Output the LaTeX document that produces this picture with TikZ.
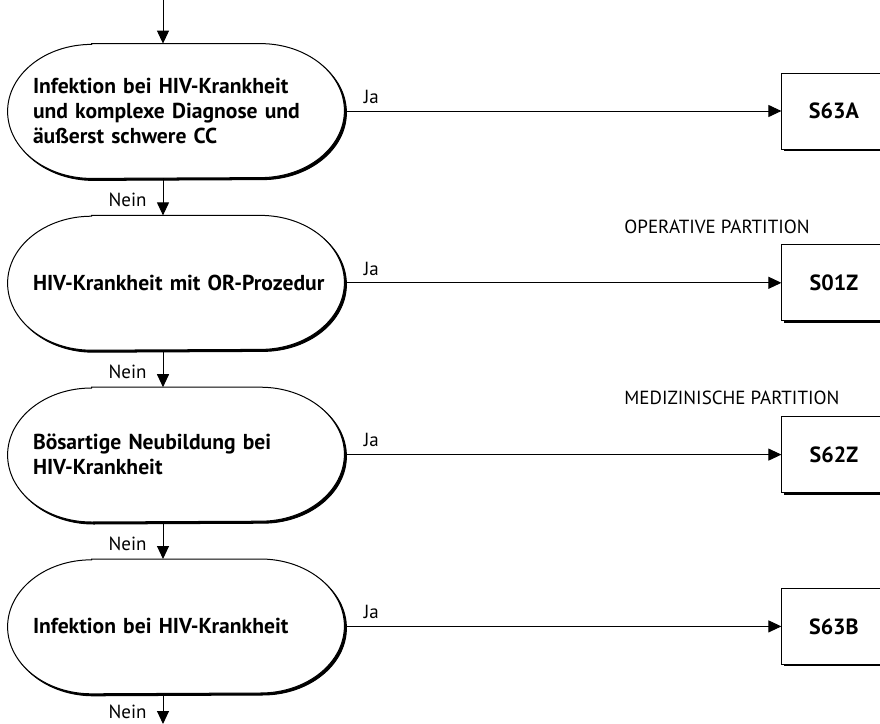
\documentclass[tikz,border=0pt]{standalone}
\usepackage{fontspec}
\setmainfont{PT Sans}
\usetikzlibrary{positioning}
\usetikzlibrary{arrows.meta}
\usetikzlibrary{backgrounds}
\usetikzlibrary{shadows}

\tikzset{
  frage/.style={rectangle, inner xsep=12.5pt, inner ysep=0pt, minimum height=67pt, text width=143pt, align=left, font=\fontsize{10.8}{12.5}\selectfont\bfseries},
  drg/.style={rectangle, draw, fill=white, line width=0.5pt, minimum width=52pt, minimum height=38pt, font=\fontsize{11}{12.5}\selectfont\bfseries, drop shadow={shadow xshift=1pt, shadow yshift=-1pt, fill=black, opacity=1}},
  pfeil/.style={line width=0.5pt, -{Triangle[length=6.5pt,width=6pt]}},
  klein/.style={font=\fontsize{9.5}{11}\selectfont, inner sep=0pt}
}

% Kapsel mit Schatten hinter einem Knoten
\newcommand{\kapsel}[1]{%
  \begin{scope}[on background layer]
    \foreach \d/\fl in {1pt/black, 0pt/white}{
      \filldraw[fill=\fl, line width=0.5pt]
        ([xshift=42pt+\d, yshift=-\d]#1.north west) -- ([xshift=-42pt+\d, yshift=-\d]#1.north east)
        arc[start angle=90, end angle=-90, x radius=42pt, y radius=33.5pt]
        -- ([xshift=42pt+\d, yshift=-\d]#1.south west)
        arc[start angle=270, end angle=90, x radius=42pt, y radius=33.5pt] -- cycle;
    }
  \end{scope}
}

\begin{document}
\begin{tikzpicture}
  \useasboundingbox (0,0) rectangle (440pt,-362pt);

  \coordinate (start) at (81.5pt,0pt);
  \node[frage] (c1) at (88pt,-55.5pt) {Infektion bei HIV-Krankheit\\und komplexe Diagnose und\\äußerst schwere CC};
  \node[frage, below=18.5pt of c1] (c2) {\mbox{HIV-Krankheit mit OR-Prozedur}};
  \node[frage, below=18.5pt of c2] (c3) {Bösartige Neubildung bei\\HIV-Krankheit};
  \node[frage, below=18.5pt of c3] (c4) {Infektion bei HIV-Krankheit};
  \coordinate (ende) at (81.5pt,-362pt);

  \kapsel{c1}
  \kapsel{c2}
  \kapsel{c3}
  \kapsel{c4}

  \node[drg, right=218.5pt of c1] (s63a) {S63A};
  \node[drg, right=218.5pt of c2] (s01z) {S01Z};
  \node[drg, right=218.5pt of c3] (s62z) {S62Z};
  \node[drg, right=218.5pt of c4] (s63b) {S63B};

  \node[klein, anchor=west] (op) at (312pt,-113.5pt) {OPERATIVE PARTITION};
  \node[klein, anchor=west] (med) at (312pt,-199pt) {MEDIZINISCHE PARTITION};

  \draw[pfeil] (start) -- ([xshift=-6.5pt]c1.north);
  \draw[pfeil] ([xshift=-6.5pt]c1.south) -- ([xshift=-6.5pt]c2.north) node[klein, midway, left=8pt, yshift=-1.5pt] {Nein};
  \draw[pfeil] ([xshift=-6.5pt]c2.south) -- ([xshift=-6.5pt]c3.north) node[klein, midway, left=8pt, yshift=-1.5pt] {Nein};
  \draw[pfeil] ([xshift=-6.5pt]c3.south) -- ([xshift=-6.5pt]c4.north) node[klein, midway, left=8pt, yshift=-1.5pt] {Nein};
  \draw[pfeil] ([xshift=-6.5pt]c4.south) -- (ende) node[klein, midway, left=8pt, yshift=-1.5pt] {Nein};

  \draw[pfeil] (c1) -- (s63a) node[klein, pos=0, above right, xshift=9.5pt, yshift=3.5pt] {Ja};
  \draw[pfeil] (c2) -- (s01z) node[klein, pos=0, above right, xshift=9.5pt, yshift=3.5pt] {Ja};
  \draw[pfeil] (c3) -- (s62z) node[klein, pos=0, above right, xshift=9.5pt, yshift=3.5pt] {Ja};
  \draw[pfeil] (c4) -- (s63b) node[klein, pos=0, above right, xshift=9.5pt, yshift=3.5pt] {Ja};
\end{tikzpicture}
\end{document}
